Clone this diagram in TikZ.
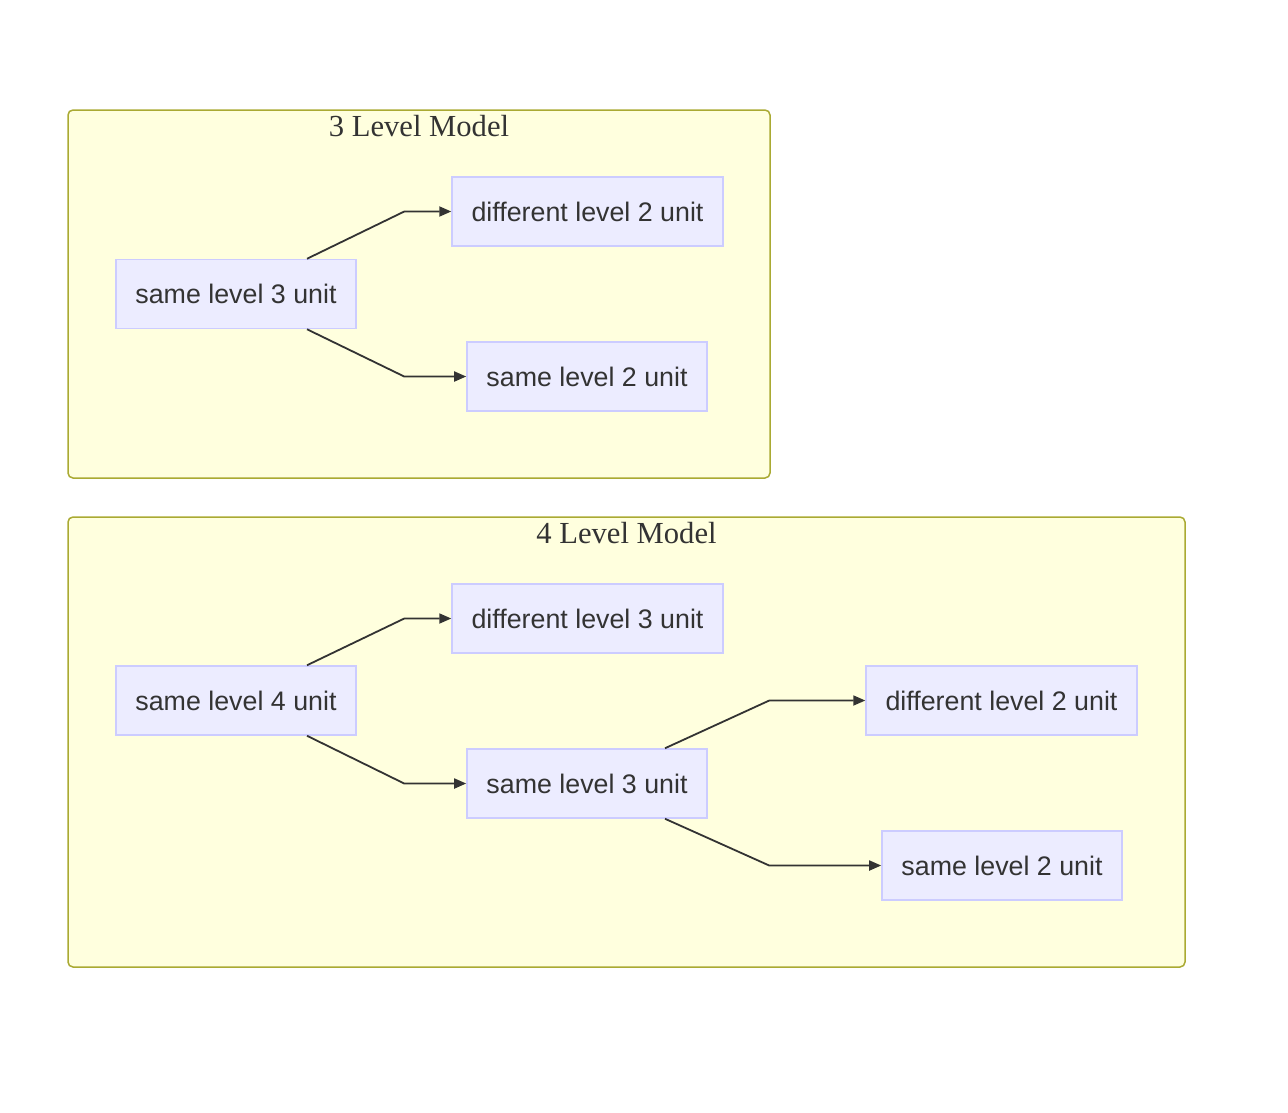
\documentclass[tikz,border=0pt]{standalone}
\usepackage{fontspec}
\setmainfont{Liberation Serif}
\newfontfamily\unitfont{Liberation Sans}
\usetikzlibrary{arrows.meta}
\definecolor{clusterfill}{HTML}{FFFFDE}
\definecolor{clusterline}{HTML}{AAAA33}
\definecolor{unitfill}{HTML}{ECECFF}
\definecolor{unitline}{HTML}{CCCCFF}
\definecolor{inkgray}{HTML}{333333}

\begin{document}
\begin{tikzpicture}[
    x=1pt, y=-1pt,
    cluster/.style={draw=clusterline, fill=clusterfill, line width=1.5pt, rounded corners=5pt, inner sep=0pt},
    cluster title/.style={text=inkgray, font=\fontsize{30.6}{36}\selectfont, inner sep=0pt},
    unit/.style={draw=unitline, fill=unitfill, line width=1.5pt, text=inkgray, font=\unitfont\fontsize{26.8}{32}\selectfont, minimum height=69pt, inner xsep=19.5pt},
    link/.style={draw=inkgray, line width=1.8pt, -{Triangle[length=12pt, width=10pt]}}
]
    \useasboundingbox (0,0) rectangle (1288,1112);

    \node[cluster, minimum width=702pt, minimum height=368pt] (m3) at (419,294) {};
    \node[cluster title] (m3title) at ([yshift=-17pt]m3.north) {3 Level Model};
    \node[unit] (s3) at (236,294) {same level 3 unit};
    \node[unit] (d2) at (587.5,211.5) {different level 2 unit};
    \node[unit] (s2) at (587,376.5) {same level 2 unit};

    \node[cluster, minimum width=1117pt, minimum height=450pt] (m4) at (626.5,742) {};
    \node[cluster title] (m4title) at ([yshift=-17pt]m4.north) {4 Level Model};
    \node[unit] (t4) at (236,700.5) {same level 4 unit};
    \node[unit] (u3) at (587.5,618.5) {different level 3 unit};
    \node[unit] (t3) at (587,783.5) {same level 3 unit};
    \node[unit] (u2) at (1001.5,700.5) {different level 2 unit};
    \node[unit] (t2) at (1002,865.5) {same level 2 unit};

    \draw[link] ([xshift=71pt]s3.north) -- ([xshift=-47pt]d2.west) -- (d2.west);
    \draw[link] ([xshift=71pt]s3.south) -- ([xshift=-62pt]s2.west) -- (s2.west);

    \draw[link] ([xshift=71pt]t4.north) -- ([xshift=-47pt]u3.west) -- (u3.west);
    \draw[link] ([xshift=71pt]t4.south) -- ([xshift=-62pt]t3.west) -- (t3.west);
    \draw[link] ([xshift=78pt]t3.north) -- ([xshift=-96pt]u2.west) -- (u2.west);
    \draw[link] ([xshift=78pt]t3.south) -- ([xshift=-112pt]t2.west) -- (t2.west);

\end{tikzpicture}
\end{document}
